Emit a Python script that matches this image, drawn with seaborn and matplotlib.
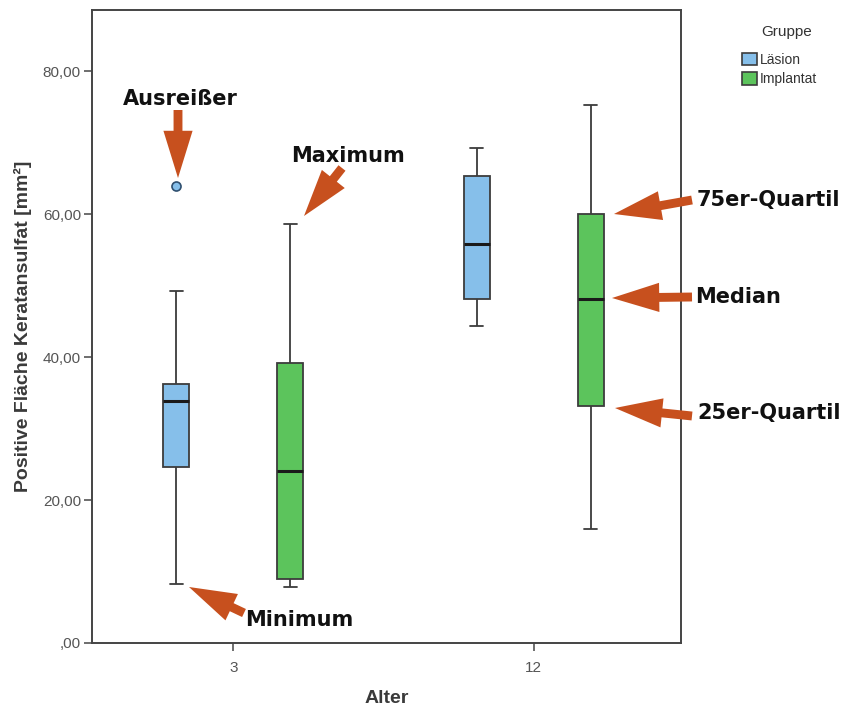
import numpy as np
import pandas as pd
import matplotlib
matplotlib.use("Agg")
import matplotlib.pyplot as plt
import seaborn as sns
from matplotlib.patches import Patch, FancyArrowPatch

# ---- data ----
alter_cats = ["3", "12"]
gruppen = ["Läsion", "Implantat"]
# observations chosen so that the box statistics reproduce the read values
lasion_3 = [8.3, 24.6, 24.6, 33.9, 33.9, 36.3, 36.3, 49.3, 64.0]
implantat_3 = [7.9, 8.9, 24.1, 39.2, 58.7]
lasion_12 = [44.4, 48.2, 55.8, 65.4, 69.3]
implantat_12 = [16.0, 33.2, 48.1, 60.0, 75.3]
y_ticks = [0, 20, 40, 60, 80]
y_ticklabels = [",00", "20,00", "40,00", "60,00", "80,00"]

series = {
    ("3", "Läsion"): lasion_3,
    ("3", "Implantat"): implantat_3,
    ("12", "Läsion"): lasion_12,
    ("12", "Implantat"): implantat_12,
}
rows = []
for (alter, gruppe), vals in series.items():
    for v in vals:
        rows.append({"Alter": alter, "Gruppe": gruppe, "Wert": v})
df = pd.DataFrame(rows)

BLUE = "#86bfea"
GREEN = "#5cc45c"
ORANGE = "#c7501e"
EDGE = "#3c3c3c"

sns.set_theme(style="white")
plt.rcParams["font.family"] = ["Liberation Sans", "DejaVu Sans"]

W, H = 852, 711
fig = plt.figure(figsize=(W / 100, H / 100), dpi=100)
ax = fig.add_axes([92 / W, 1 - 643 / H, (681 - 92) / W, (643 - 10) / H])

sns.boxplot(
    data=df, x="Alter", y="Wert", hue="Gruppe",
    order=alter_cats, hue_order=gruppen,
    palette=[BLUE, GREEN], saturation=1,
    width=0.76, gap=0.77, linecolor=EDGE, linewidth=1.3,
    medianprops=dict(color="#1a1a1a", linewidth=2.2),
    flierprops=dict(marker="o", markerfacecolor=BLUE, markeredgecolor="#2f4f6f",
                    markersize=6.5, markeredgewidth=1.2),
    legend=False, ax=ax,
)

ax.set_xlim(-0.47, 1.49)
ax.set_ylim(0, 88.6)
ax.set_yticks(y_ticks)
ax.set_yticklabels(y_ticklabels)
ax.tick_params(axis="both", which="both", direction="out", length=6, width=1.2,
               color="#555555", labelcolor="#555555", labelsize=11, pad=2,
               left=True, bottom=True)
ax.tick_params(axis="x", pad=7)
for sp in ax.spines.values():
    sp.set_color("#444444")
    sp.set_linewidth(1.4)

ax.set_xlabel("Alter", fontsize=14, fontweight="bold", color="#3a3a3a", labelpad=11)
ax.set_ylabel("Positive Fläche Keratansulfat [mm²]", fontsize=14, fontweight="bold",
              color="#3a3a3a", labelpad=8)


def px(x, y):
    return (x / W, 1 - y / H)


# legend
handles = [Patch(facecolor=BLUE, edgecolor=EDGE, linewidth=1.2),
           Patch(facecolor=GREEN, edgecolor=EDGE, linewidth=1.2)]
leg = fig.legend(handles, gruppen, loc="upper left",
                 bbox_to_anchor=px(742, 53), frameon=False,
                 fontsize=10, handlelength=1.05, handleheight=1.0,
                 handletextpad=0.25, labelspacing=0.38, borderaxespad=0, borderpad=0)
for t in leg.get_texts():
    t.set_color("#333333")
fig.text(*px(787, 32), "Gruppe", ha="center", va="center", fontsize=11, color="#333333")

arrow_style = "simple,head_length=1.7,head_width=1.05,tail_width=0.32"
arrows = [
    ((178, 110), (178, 178)),   # Ausreißer
    ((342, 168), (304, 216)),   # Maximum
    ((244, 613), (189, 587)),   # Minimum
    ((692, 200), (614, 214)),   # 75er-Quartil
    ((692, 297), (612, 298)),   # Median
    ((692, 416), (615, 408)),   # 25er-Quartil
]
for tail, tip in arrows:
    fig.add_artist(FancyArrowPatch(
        px(*tail), px(*tip), transform=fig.transFigure,
        arrowstyle=arrow_style, mutation_scale=20,
        facecolor=ORANGE, edgecolor="none", shrinkA=0, shrinkB=0, zorder=10))

ann_font = dict(fontsize=15, fontweight="bold", color="#111111", family="DejaVu Sans")
labels = [
    ("Ausreißer", (180, 99), "center"),
    ("Maximum", (348, 156), "center"),
    ("Minimum", (245, 620), "left"),
    ("75er-Quartil", (697, 200), "left"),
    ("Median", (695, 297), "left"),
    ("25er-Quartil", (697, 413), "left"),
]
for txt, (x, y), ha in labels:
    fig.text(*px(x, y), txt, ha=ha, va="center", **ann_font)

fig.savefig("out.png", dpi=100)
